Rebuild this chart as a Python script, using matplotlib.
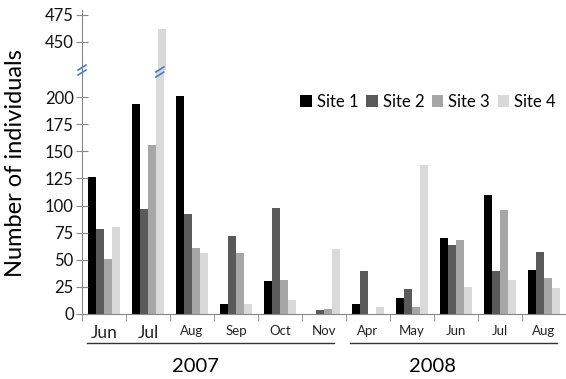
import matplotlib.pyplot as plt
import numpy as np
from matplotlib.lines import Line2D

plt.rcParams['font.family'] = ['Lato', 'DejaVu Sans']

months = ['Jun', 'Jul', 'Aug', 'Sep', 'Oct', 'Nov', 'Apr', 'May', 'Jun', 'Jul', 'Aug']
site1 = [126, 194, 201, 9, 30, 0, 9, 15, 70, 110, 41]
site2 = [78, 97, 92, 72, 98, 4, 40, 23, 64, 40, 57]
site3 = [51, 156, 61, 56, 31, 4.5, 0, 6, 68, 96, 33]
site4 = [80, 462, 56, 9, 13, 60, 6, 137, 25, 31, 24]
sites = ['Site 1', 'Site 2', 'Site 3', 'Site 4']
colors = ['#000000', '#5a5a5a', '#a6a6a6', '#d9d9d9']

fig = plt.figure(figsize=(5.66, 3.79), dpi=100)
W, H = 566, 379
left = 82 / W
ax = fig.add_axes([left, 65 / H, 1 - left, (314 - 70) / H])
axt = fig.add_axes([left, 1 - 70 / H, 1 - left, 60 / H])

x = np.arange(len(months))
bw = 0.18
for i, vals in enumerate([site1, site2, site3, site4]):
    off = (i - 1.5) * bw
    ax.bar(x + off, vals, bw, color=colors[i], label=sites[i])
    axt.bar(x + off, vals, bw, color=colors[i])

ax.set_ylim(0, 225)
axt.set_ylim(424, 479.6)
for a in (ax, axt):
    a.set_xlim(-0.5, 10.26)
    a.spines['top'].set_visible(False)
    a.spines['right'].set_visible(False)
    a.spines['left'].set_color('#888888')
    a.tick_params(axis='y', direction='inout', length=8, color='#888888',
                  labelsize=12, pad=2, labelcolor='#111111')
axt.spines['bottom'].set_visible(False)
axt.set_xticks([])
axt.set_yticks([450, 475])
ax.set_yticks(np.arange(0, 201, 25))
ax.spines['bottom'].set_color('#888888')

ax.set_xticks(x)
ax.set_xticklabels(months)
ax.set_xticks(np.arange(-0.5, 11, 1), minor=True)
ax.tick_params(axis='x', which='major', length=0, pad=8)
ax.tick_params(axis='x', which='minor', length=5, color='#888888', direction='out')
for i, lbl in enumerate(ax.get_xticklabels()):
    lbl.set_fontsize(12.5 if i < 2 else 9.5)
    lbl.set_color('#222222')

# year underlines and labels
ax.add_line(Line2D([-0.39, 5.23], [-0.12, -0.12], transform=ax.get_xaxis_transform(),
                   color='#333333', lw=1, clip_on=False))
ax.add_line(Line2D([5.59, 10.3], [-0.12, -0.12], transform=ax.get_xaxis_transform(),
                   color='#333333', lw=1, clip_on=False))
fig.text(195 / W, 1 - 367 / H, '2007', ha='center', va='center', fontsize=14.5)
fig.text(432 / W, 1 - 367 / H, '2008', ha='center', va='center', fontsize=14.5)

fig.text(16 / W, 1 - 163 / H, 'Number of individuals', rotation=90,
         ha='center', va='center', fontsize=17)

ax.legend(loc='center', bbox_to_anchor=(428 / W, 1 - 102 / H),
          bbox_transform=fig.transFigure, ncol=4, frameon=False, fontsize=12,
          handlelength=0.7, handleheight=0.7, handletextpad=0.3, columnspacing=0.45)

# axis break marks
def brk(px, py):
    for dy in (-2.5, 2.5):
        fig.add_artist(Line2D([(px - 4) / W, (px + 4) / W],
                              [1 - (py + dy + 2.5) / H, 1 - (py + dy - 2.5) / H],
                              color='#4a7ebb', lw=1.2))

brk(82, 70)
bx = ax.transData.transform((1 + 1.5 * bw, 0))[0]
brk(bx, 72)

fig.savefig('out.png', dpi=100)
